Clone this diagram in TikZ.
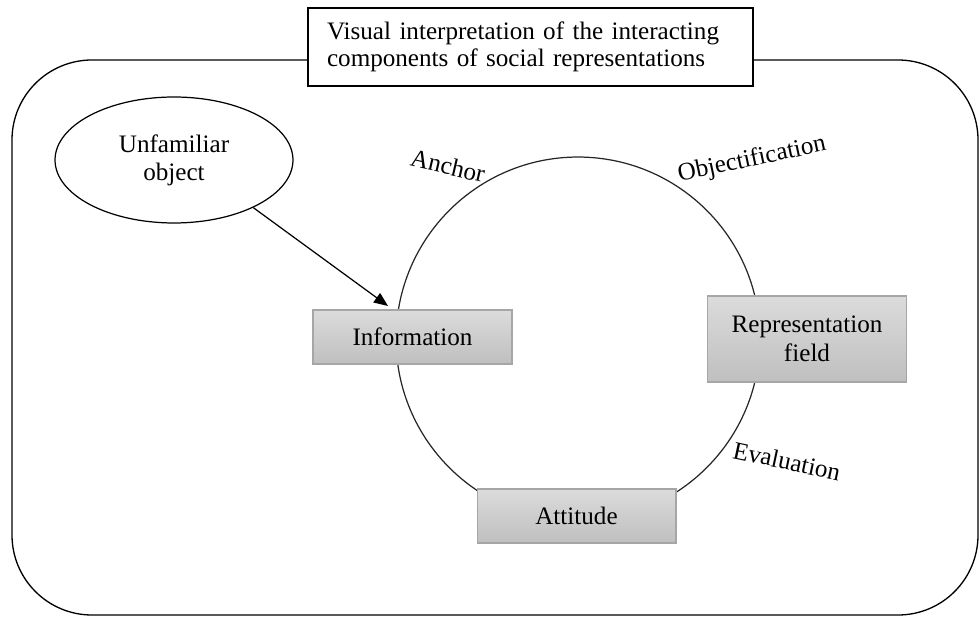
\documentclass[tikz,border=0pt]{standalone}
\usepackage{fontspec}
\setmainfont{Liberation Serif}
\usetikzlibrary{shapes.geometric,arrows.meta}

\tikzset{
  frame/.style={draw=black, line width=0.75pt, rounded corners=1.6cm},
  cycle/.style={draw=black!85, line width=0.7pt},
  titlebox/.style={draw=black, line width=0.75pt, fill=white, minimum width=8.9cm,
    minimum height=1.56cm, text width=8.14cm, align=left, inner xsep=0.38cm,
    font=\fontsize{14.3}{15.6}\selectfont},
  stagebox/.style={draw=black!35, line width=0.6pt, top color=black!14, bottom color=black!25,
    minimum width=3.98cm, align=center, font=\fontsize{14.3}{16.8}\selectfont},
  objectnode/.style={ellipse, draw=black, line width=0.7pt, fill=white, minimum width=4.76cm,
    minimum height=2.52cm, inner sep=0pt, align=center, font=\fontsize{14.3}{16}\selectfont},
  arclabel/.style={font=\fontsize{14.3}{16}\selectfont, inner sep=1pt},
  feed/.style={draw=black, line width=0.7pt, -{Triangle[length=8pt,width=6.5pt]}}
}

\begin{document}
\begin{tikzpicture}[x=0.02cm, y=-0.02cm]
  \useasboundingbox (0,0) rectangle (979,617);

  % outer frame
  \draw[frame] (12,60) rectangle (978,615);

  % title
  \node[titlebox] (title) at (530.5,47) {Visual interpretation of the interacting\\components of social representations};

  % cycle of components
  \draw[cycle] (578,339) circle[radius=3.64cm];

  \node[arclabel, rotate=-13] (anchor) at (448,166) {Anchor};
  \node[arclabel, rotate=12] (objectification) at (752,160) {Objectification};
  \node[arclabel, rotate=-12] (evaluation) at (787,461) {Evaluation};

  \node[stagebox, minimum height=1.08cm] (information) at (412.5,337) {Information};
  \node[stagebox, minimum height=1.72cm] (field) at (807,339) {Representation\\field};
  \node[stagebox, minimum height=1.08cm] (attitude) at (576.5,516) {Attitude};

  % external object feeding the cycle
  \node[objectnode] (object) at (174,160) {Unfamiliar\\object};
  \coordinate (entry) at (388,306);
  \draw[feed] (object.-31) -- (entry);
\end{tikzpicture}
\end{document}
